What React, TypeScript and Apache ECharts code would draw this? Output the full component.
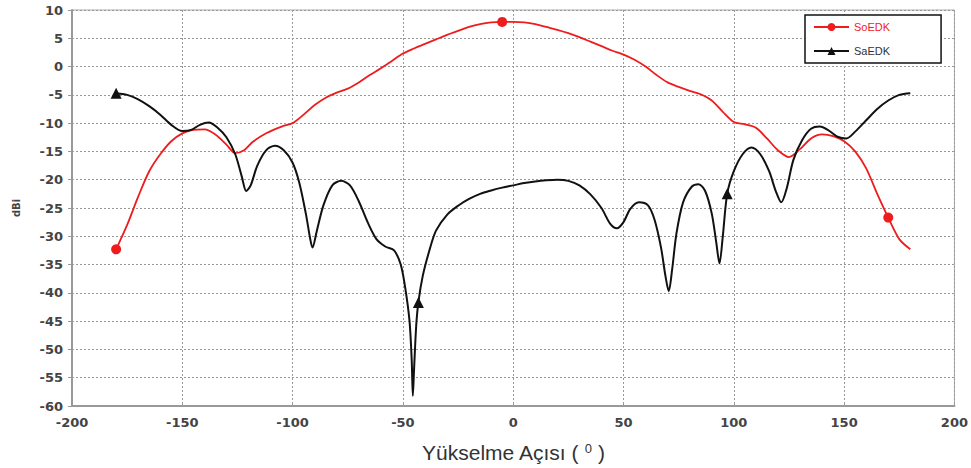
import React, { useEffect, useRef } from "react";
import * as echarts from "echarts";

const xTicks = [-200, -150, -100, -50, 0, 50, 100, 150, 200];

const soX = [-180, -175, -170, -165, -160, -155, -150, -145, -140, -135, -130, -126, -122, -118, -112, -105, -100, -95, -90, -85, -80, -75, -70, -65, -60, -55, -50, -45, -40, -35, -30, -25, -20, -15, -10, -5, 0, 5, 10, 15, 20, 25, 30, 35, 40, 45, 50, 55, 60, 65, 70, 75, 80, 85, 90, 95, 100, 105, 110, 115, 120, 125, 130, 135, 140, 145, 150, 155, 160, 165, 170, 175, 180];
const soY = [-32.3, -28, -23, -18.5, -15.5, -13.2, -11.8, -11.2, -11.1, -12, -13.8, -15.3, -14.8, -13.3, -11.8, -10.6, -10, -8.5, -6.8, -5.5, -4.6, -3.9, -2.8, -1.5, -0.3, 1, 2.3, 3.2, 4, 4.8, 5.6, 6.3, 7, 7.5, 7.8, 7.9, 7.9, 7.8, 7.5, 7, 6.5, 5.9, 5.2, 4.4, 3.6, 2.8, 2.1, 1.2, 0, -1.5, -2.8, -3.6, -4.3, -4.9, -6, -8, -9.8, -10.2, -10.8, -12.7, -14.8, -16, -14.6, -12.7, -12, -12.3, -13.2, -15, -18, -22.5, -26.7, -30.5, -32.3];
const soMarkers = [-180, -5, 170];

const saX = [-180, -175, -170, -165, -160, -155, -150, -146, -142, -138, -134, -130, -126, -123, -121, -119, -116, -112, -108, -104, -100, -97, -94, -92, -91, -89, -86, -82, -78, -74, -70, -66, -62, -58, -54, -51, -49, -47, -46, -45.5, -45, -44, -43, -41, -38, -35, -30, -25, -20, -15, -10, -5, 0, 5, 10, 15, 20, 25, 30, 35, 40, 44, 47, 50, 53, 57, 61, 64, 67, 69, 70.5, 72, 74, 77, 81, 84, 87, 90, 92, 93.5, 95, 97, 100, 104, 108, 112, 116, 119, 121.5, 124, 127, 131, 135, 139, 143, 147, 151, 155, 160, 165, 170, 175, 180];
const saY = [-4.7, -5, -5.8, -7, -8.5, -10.3, -11.4, -11.2, -10.3, -9.9, -10.8, -12.5, -15.5, -19.5, -22, -21, -17.5, -14.8, -14, -14.8, -17, -20.5, -26, -30.5, -32, -29, -24.5, -21, -20.2, -21, -23.8, -27.5, -30.5, -31.8, -32.5, -35, -39, -45, -52, -58.2, -54, -46, -41.7, -37, -32.5, -29, -26.2, -24.6, -23.4, -22.5, -21.9, -21.4, -21, -20.6, -20.3, -20.1, -20, -20.2, -21, -22.6, -25, -27.8, -28.6, -27.5, -25.2, -24, -24.5, -27, -32, -37, -39.7, -36, -29.5, -24, -21.2, -20.8, -22, -26, -31, -34.8, -30, -22.5, -18.5, -15.5, -14.3, -15.5, -18.5, -22, -24, -21.5, -16.5, -13, -11, -10.6, -11.3, -12.4, -12.7, -11.5, -9.5, -7.5, -6, -5, -4.7];
const saMarkers = [-180, -43, 97];

const RED = "#ee1c1c";
const BLACK = "#111111";

function build(xs: number[], ys: number[], marks: number[]) {
  return xs.map((x, i) =>
    marks.includes(x)
      ? { value: [x, ys[i]] }
      : { value: [x, ys[i]], symbol: "none" }
  );
}

export default function App() {
  const ref = useRef<HTMLDivElement>(null);
  useEffect(() => {
    if (!ref.current) return;
    const chart = echarts.init(ref.current, null, { renderer: "svg" });
    const labelFont = {
      fontFamily: "DejaVu Sans",
      fontWeight: "bold" as const,
      fontSize: 13,
      color: "#444",
    };
    chart.setOption({
      animation: false,
      backgroundColor: "#fff",
      grid: {
        left: 72,
        right: 14,
        top: 10,
        bottom: 61,
        show: true,
        borderColor: "#aaa",
        borderWidth: 1,
      },
      legend: {
        orient: "vertical",
        left: 805,
        top: 15,
        padding: [6, 51, 6, 8],
        itemWidth: 35,
        itemHeight: 10,
        itemGap: 12,
        borderColor: "#111",
        borderWidth: 1.5,
        backgroundColor: "#fff",
        textStyle: { fontFamily: "Liberation Sans", fontSize: 11, lineHeight: 12 },
        data: [
          { name: "SoEDK", textStyle: { color: RED } },
          { name: "SaEDK", textStyle: { color: "#333" } },
        ],
      },
      xAxis: {
        type: "value",
        min: -200,
        max: 200,
        interval: 50,
        name: "Yükselme Açısı ( {sup|0} )",
        nameLocation: "middle",
        nameGap: 36,
        nameTextStyle: {
          fontFamily: "Liberation Sans",
          fontSize: 21,
          color: "#333",
          rich: {
            sup: {
              fontFamily: "Liberation Sans",
              fontSize: 13,
              color: "#333",
              verticalAlign: "top",
              padding: [0, 0, 8, 0],
            },
          },
        },
        axisLine: { onZero: false, lineStyle: { color: "#999", width: 2 } },
        axisTick: { show: true, length: 4, inside: true, lineStyle: { color: "#999" } },
        axisLabel: { ...labelFont, margin: 10, customValues: xTicks },
        splitLine: { show: true, lineStyle: { color: "#999", type: [2, 2], width: 1 } },
      },
      yAxis: {
        type: "value",
        min: -60,
        max: 10,
        interval: 5,
        name: "dBi",
        nameLocation: "middle",
        nameGap: 51,
        nameTextStyle: { fontFamily: "DejaVu Sans", fontWeight: "bold", fontSize: 10, color: "#444" },
        axisLine: { show: true, onZero: false, lineStyle: { color: "#999", width: 2 } },
        axisTick: { show: true, length: 4, lineStyle: { color: "#999" } },
        axisLabel: { ...labelFont, margin: 9 },
        splitLine: { show: true, lineStyle: { color: "#999", type: [2, 2], width: 1 } },
      },
      series: [
        {
          name: "SoEDK",
          type: "line",
          smooth: 0.3,
          symbol: "circle",
          symbolSize: 10,
          itemStyle: { color: RED },
          lineStyle: { color: RED, width: 1.8 },
          data: build(soX, soY, soMarkers),
          z: 3,
        },
        {
          name: "SaEDK",
          type: "line",
          smooth: 0.3,
          symbol: "triangle",
          symbolSize: 11,
          itemStyle: { color: BLACK },
          lineStyle: { color: BLACK, width: 2 },
          data: build(saX, saY, saMarkers),
          z: 4,
        },
      ],
    });
    return () => chart.dispose();
  }, []);
  return (
    <div
      ref={ref}
      style={{ position: "absolute", left: 0, top: 0, width: 971, height: 468 }}
    />
  );
}
